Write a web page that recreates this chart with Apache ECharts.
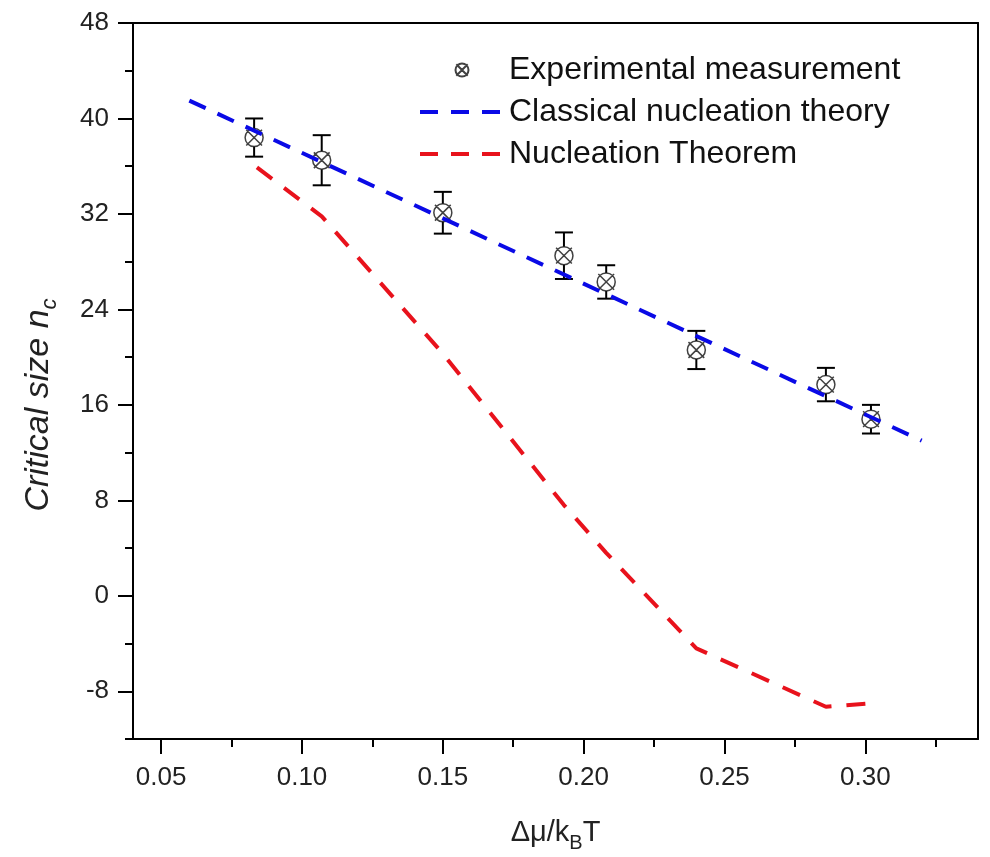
<!DOCTYPE html>
<html>
<head>
<meta charset="utf-8">
<script src="https://cdn.jsdelivr.net/npm/echarts@6/dist/echarts.min.js"></script>
<style>
  html, body { margin: 0; padding: 0; background: #fff; }
  #chart { width: 990px; height: 857px; }
</style>
</head>
<body>
<div id="chart"></div>
<script>
// axis ticks
const xMajor = [0.05, 0.10, 0.15, 0.20, 0.25, 0.30]
const xMinor = [0.075, 0.125, 0.175, 0.225, 0.275, 0.325]
const yMajor = [-8, 0, 8, 16, 24, 32, 40, 48]
const yMinor = [-12, -4, 4, 12, 20, 28, 36, 44]

// experimental measurement with error bars
const expX = [0.083, 0.107, 0.150, 0.193, 0.208, 0.240, 0.286, 0.302]
const expY = [38.4, 36.5, 32.1, 28.5, 26.3, 20.6, 17.7, 14.8]
const expErr = [1.6, 2.1, 1.75, 1.95, 1.4, 1.6, 1.4, 1.2]

// classical nucleation theory
const cntX = [0.06, 0.32]
const cntY = [41.5, 13.0]

// nucleation theorem
const ntX = [0.084, 0.107, 0.150, 0.193, 0.208, 0.240, 0.286, 0.302]
const ntY = [35.9, 31.8, 20.3, 7.6, 3.6, -4.4, -9.3, -9.0]

const font = '"Liberation Sans", Arial, sans-serif'
const markerPath = 'path://M3,3L17,17M17,3L3,17M10,2A8,8 0 1 1 9.99,2Z'
const blue = '#0a0ae6'
const red = '#e8121c'

const chart = echarts.init(document.getElementById('chart'), null, { renderer: 'canvas' })

const frameLine = { show: true, onZero: false, lineStyle: { color: '#000', width: 2 } }

const option = {
  backgroundColor: '#fff',
  animation: false,
  textStyle: { fontFamily: font },
  grid: {
    left: 133,
    right: 12,
    top: 23,
    bottom: 118,
    containLabel: false,
    outerBoundsMode: 'none'
  },
  legend: {
    orient: 'vertical',
    left: 413,
    top: 49,
    itemWidth: 84,
    itemHeight: 13,
    itemGap: 10,
    data: [
      { name: 'Experimental measurement' },
      { name: 'Classical nucleation theory', itemStyle: { opacity: 0 }, lineStyle: { width: 4, type: [18, 13] } },
      { name: 'Nucleation Theorem', itemStyle: { opacity: 0 }, lineStyle: { width: 4, type: [18, 13] } }
    ],
    textStyle: { fontSize: 32, color: '#111', fontFamily: font }
  },
  xAxis: [
    {
      type: 'value',
      position: 'bottom',
      min: 0.04,
      max: 0.34,
      axisLine: frameLine,
      axisTick: { show: true, inside: false, length: 15, customValues: xMajor, lineStyle: { color: '#000', width: 2 } },
      axisLabel: {
        customValues: xMajor,
        formatter: v => v.toFixed(2),
        fontSize: 26,
        color: '#222',
        margin: 26
      },
      splitLine: { show: false },
      name: '{a|Δμ/k}{b|B}{a|T}',
      nameLocation: 'middle',
      nameGap: 74,
      nameTextStyle: {
        rich: {
          a: { fontSize: 29, color: '#222', lineHeight: 40 },
          b: { fontSize: 20, color: '#222', lineHeight: 12, verticalAlign: 'bottom' }
        }
      }
    },
    {
      type: 'value',
      position: 'bottom',
      min: 0.04,
      max: 0.34,
      axisLine: { show: false, onZero: false },
      axisTick: { show: true, inside: false, length: 8, customValues: xMinor, lineStyle: { color: '#000', width: 2 } },
      axisLabel: { show: false },
      splitLine: { show: false }
    },
    {
      type: 'value',
      position: 'top',
      min: 0.04,
      max: 0.34,
      axisLine: frameLine,
      axisTick: { show: false },
      axisLabel: { show: false },
      splitLine: { show: false }
    }
  ],
  yAxis: [
    {
      type: 'value',
      position: 'left',
      min: -12,
      max: 48,
      axisLine: frameLine,
      axisTick: { show: true, inside: false, length: 15, customValues: yMajor, lineStyle: { color: '#000', width: 2 } },
      axisLabel: { customValues: yMajor, fontSize: 26, color: '#222', margin: 24 },
      splitLine: { show: false },
      name: '{i|Critical size n}{s|c}',
      nameLocation: 'middle',
      nameGap: 72,
      nameTextStyle: {
        padding: [0, 48, 0, 0],
        rich: {
          i: { fontSize: 34, fontStyle: 'italic', color: '#222', lineHeight: 44 },
          s: { fontSize: 22, fontStyle: 'italic', color: '#222', lineHeight: 14, verticalAlign: 'bottom' }
        }
      }
    },
    {
      type: 'value',
      position: 'left',
      min: -12,
      max: 48,
      axisLine: { show: false, onZero: false },
      axisTick: { show: true, inside: false, length: 8, customValues: yMinor, lineStyle: { color: '#000', width: 2 } },
      axisLabel: { show: false },
      splitLine: { show: false }
    },
    {
      type: 'value',
      position: 'right',
      min: -12,
      max: 48,
      axisLine: frameLine,
      axisTick: { show: false },
      axisLabel: { show: false },
      splitLine: { show: false }
    }
  ],
  series: [
    {
      name: 'errorbars',
      type: 'custom',
      z: 2,
      data: expX.map((x, i) => [x, expY[i], expY[i] - expErr[i], expY[i] + expErr[i]]),
      encode: { x: 0, y: [2, 3] },
      renderItem: (params, api) => {
        const x = api.value(0)
        const c = api.coord([x, api.value(1)])
        const lo = api.coord([x, api.value(2)])
        const hi = api.coord([x, api.value(3)])
        const half = 9
        const gap = 9
        const style = { stroke: '#000', lineWidth: 2 }
        return {
          type: 'group',
          children: [
            { type: 'line', shape: { x1: hi[0], y1: hi[1], x2: hi[0], y2: Math.min(c[1] - gap, lo[1]) }, style },
            { type: 'line', shape: { x1: lo[0], y1: lo[1], x2: lo[0], y2: Math.max(c[1] + gap, hi[1]) }, style },
            { type: 'line', shape: { x1: hi[0] - half, y1: hi[1], x2: hi[0] + half, y2: hi[1] }, style },
            { type: 'line', shape: { x1: lo[0] - half, y1: lo[1], x2: lo[0] + half, y2: lo[1] }, style }
          ]
        }
      }
    },
    {
      name: 'Experimental measurement',
      type: 'scatter',
      z: 3,
      symbol: markerPath,
      symbolSize: 18,
      symbolKeepAspect: true,
      itemStyle: { color: 'rgba(0,0,0,0)', borderColor: '#111', borderWidth: 1.5 },
      data: expX.map((x, i) => [x, expY[i]])
    },
    {
      name: 'Classical nucleation theory',
      type: 'line',
      z: 4,
      symbol: 'none',
      color: blue,
      lineStyle: { color: blue, width: 4, type: [18, 13] },
      data: cntX.map((x, i) => [x, cntY[i]])
    },
    {
      name: 'Nucleation Theorem',
      type: 'line',
      z: 4,
      symbol: 'none',
      color: red,
      lineStyle: { color: red, width: 4, type: [19, 15] },
      data: ntX.map((x, i) => [x, ntY[i]])
    }
  ]
}

chart.setOption(option)
</script>
</body>
</html>
